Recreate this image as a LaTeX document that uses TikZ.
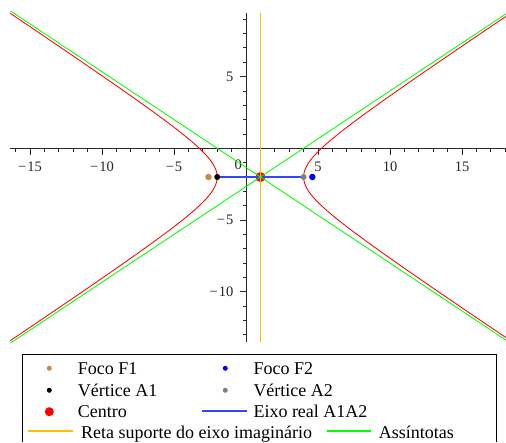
\documentclass[tikz,border=0pt]{standalone}
\usepackage{fontspec}
\setmainfont{Liberation Serif}
\definecolor{hypred}{RGB}{255,0,0}
\definecolor{asgreen}{RGB}{0,255,0}
\definecolor{imorange}{RGB}{255,190,0}
\definecolor{focobrown}{RGB}{205,133,63}
\definecolor{axisgray}{RGB}{40,40,40}
\definecolor{vertgray}{RGB}{128,128,128}
\definecolor{realblue}{RGB}{50,70,255}
\tikzset{
  axisline/.style={draw=axisgray, line width=0.9pt},
  tickmark/.style={draw=axisgray, line width=0.8pt},
  ticklab/.style={font=\fontsize{14.5}{16}\selectfont, inner sep=0pt, text=black!85},
  legtext/.style={font=\fontsize{18}{20}\selectfont, inner sep=0pt, anchor=base west},
  pdot/.style={circle, inner sep=0pt, minimum size=#1},
  curve/.style={line width=0.85pt},
  bluecurve/.style={draw=realblue, line width=1.2pt},
  legline/.style={line width=1.2pt},
}
\begin{document}
\begin{tikzpicture}[x=1pt,y=-1pt]
\useasboundingbox (0,0) rectangle (506,442);
\begin{scope}[shift={(246,148.3)}, x=14.4pt, y=14.35pt]
  \coordinate (C) at (1,-2);
  \coordinate (A1) at (-2,-2);
  \coordinate (A2) at (4,-2);
  \coordinate (F1) at (-2.6056,-2);
  \coordinate (F2) at (4.6056,-2);
  \coordinate (xl) at (-16.39,0);
  \coordinate (xr) at (18.06,0);
  \coordinate (yt) at (0,9.45);
  \coordinate (yb) at (0,-13.5);
  \coordinate (ot) at (1,9.45);
  \coordinate (ob) at (1,-13.5);
  % axes
  \draw[axisline] (xl) -- (xr);
  \draw[axisline] (yt) -- (yb);
  \foreach \i in {-16,...,-1,1,2,...,18} \draw[tickmark] (\i,0) -- ++(0,-4pt);
  \foreach \i in {-15,-10,-5,5,10,15} \draw[tickmark] (\i,0.05) -- ++(0,-7.5pt);
  \foreach \j in {-13,...,-1,1,2,...,9} \draw[tickmark] (0,\j) -- ++(-3.5pt,0);
  \foreach \j in {-10,-5,5} \draw[tickmark] (0,\j) -- ++(-6.5pt,0);
  % tick labels
  \foreach \i/\lab in {-15/{−\kern1pt15},-10/{−\kern1pt10},-5/{−\kern1pt5},5/5,10/10,15/15}
    \node[ticklab, anchor=base] (xlab\i) at (\i,-1.617) {\lab};
  \foreach \j/\lab in {5/5,-5/{−\kern1pt5},-10/{−\kern1pt10}}
    \node[ticklab, anchor=east, xshift=-12.5pt] (ylab\j) at (0,\j) {\lab};
  \node[ticklab] (zlab) at (-0.535,-1.143) {0};
  % curves
  \begin{scope}
    \clip (-16.39,-13.5) rectangle (18.06,9.5);
    \node[pdot=10pt, fill=hypred] (cdot) at (C) {};
    \draw[bluecurve] (A1) -- (A2);
    \draw[curve, imorange] (ot) -- (ob);
    \draw[curve, asgreen] (-17,-14) -- (19,10);
    \draw[curve, asgreen] (-17,10) -- (19,-14);
    \draw[curve, hypred] plot[domain=-2.6:2.6, samples=160, variable=\t] ({1+3*cosh(\t)},{-2+2*sinh(\t)});
    \draw[curve, hypred] plot[domain=-2.6:2.6, samples=160, variable=\t] ({1-3*cosh(\t)},{-2+2*sinh(\t)});
  \end{scope}
  \node[pdot=6.5pt, fill=focobrown] (f1dot) at (F1) {};
  \node[pdot=6.5pt, fill=blue] (f2dot) at (F2) {};
  \node[pdot=6pt, fill=black] (a1dot) at (A1) {};
  \node[pdot=6pt, fill=vertgray] (a2dot) at (A2) {};
\end{scope}
% legend
\draw[line width=0.9pt] (22,442) -- (22,354) -- (496.7,354) -- (496.7,442);
\node[pdot=5pt, fill=focobrown] (lf1) at (49.3,368.3) {};
\node[legtext] (tf1) at (77.7,374.5) {Foco F1};
\node[pdot=5pt, fill=blue] (lf2) at (225.3,368.3) {};
\node[legtext] (tf2) at (253.3,374.5) {Foco F2};
\node[pdot=5pt, fill=black] (la1) at (49.3,390.3) {};
\node[legtext] (ta1) at (77.7,396) {Vértice A1};
\node[pdot=5pt, fill=vertgray] (la2) at (225.3,390.3) {};
\node[legtext] (ta2) at (253.3,396) {Vértice A2};
\node[pdot=9pt, fill=hypred] (lc) at (49.3,411.7) {};
\node[legtext] (tc) at (77.7,417.3) {Centro};
\coordinate (lbl) at (202,411);
\coordinate (lbr) at (247,411);
\draw[bluecurve] (lbl) -- (lbr);
\node[legtext] (tb) at (253.3,417.3) {Eixo real A1A2};
\coordinate (lol) at (28,431);
\coordinate (lor) at (72.7,431);
\draw[legline, imorange] (lol) -- (lor);
\node[legtext] (to) at (81,438.6) {Reta suporte do eixo imaginário};
\coordinate (lgl) at (327,431);
\coordinate (lgr) at (371,431);
\draw[legline, asgreen] (lgl) -- (lgr);
\node[legtext] (tg) at (378.7,438.6) {Assíntotas};
\end{tikzpicture}
\end{document}
